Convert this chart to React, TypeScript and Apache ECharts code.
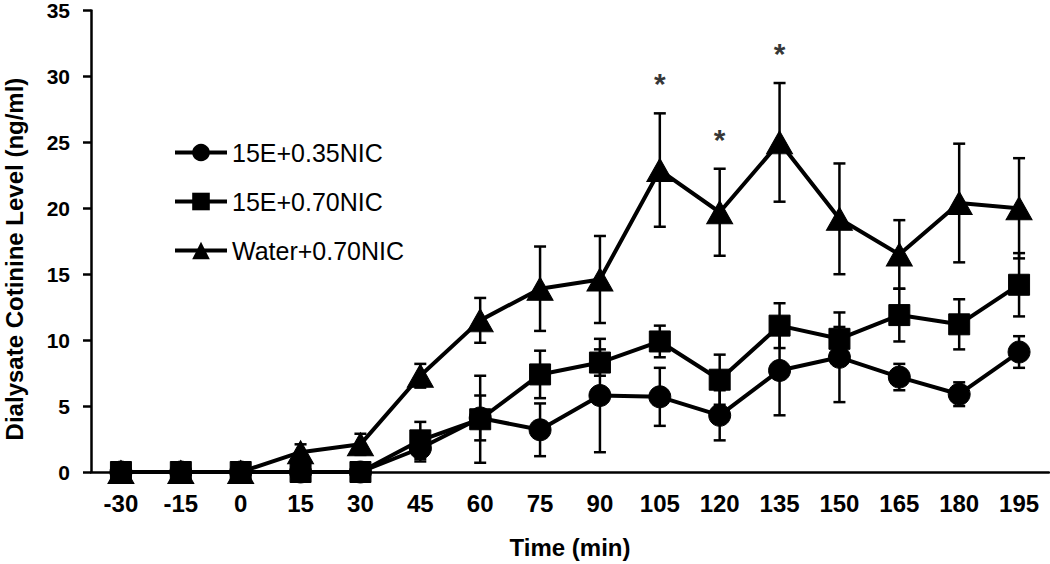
import { useEffect, useRef } from "react";
import * as echarts from "echarts";

const times = ["-30", "-15", "0", "15", "30", "45", "60", "75", "90", "105", "120", "135", "150", "165", "180", "195"];
const seriesNames = ["15E+0.35NIC", "15E+0.70NIC", "Water+0.70NIC"];

const lowNicMean = [0, 0, 0, 0, 0, 1.8, 4.1, 3.2, 5.8, 5.7, 4.3, 7.7, 8.7, 7.2, 5.9, 9.1];
const lowNicErr = [0, 0, 0, 0, 0, 1.0, 1.7, 2.0, 4.3, 2.2, 1.9, 3.4, 3.4, 1.0, 0.9, 1.2];

const highNicMean = [0, 0, 0, 0, 0, 2.4, 4.0, 7.4, 8.3, 9.9, 7.0, 11.1, 10.1, 11.9, 11.2, 14.2];
const highNicErr = [0, 0, 0, 0, 0, 1.4, 3.3, 1.8, 1.0, 1.2, 1.9, 1.7, 0.9, 2.0, 1.9, 2.4];

const waterMean = [0, 0, 0, 1.5, 2.1, 7.3, 11.5, 13.9, 14.6, 22.9, 19.7, 25.0, 19.2, 16.5, 20.4, 20.0];
const waterErr = [0, 0, 0, 0.6, 0.8, 0.9, 1.7, 3.2, 3.3, 4.3, 3.3, 4.5, 4.2, 2.6, 4.5, 3.8];

const sigTimes = ["105", "120", "135"];

const yMin = 0;
const yMax = 35;
const yStep = 5;

const FONT = "'Liberation Sans', Arial, Helvetica, sans-serif";

function errData(mean: number[], err: number[]) {
  const out: number[][] = [];
  mean.forEach((m, i) => {
    if (err[i] > 0) out.push([i, m - err[i], m + err[i]]);
  });
  return out;
}

function errorSeries(mean: number[], err: number[]) {
  return {
    type: "custom",
    z: 1,
    silent: true,
    data: errData(mean, err),
    encode: { x: 0, y: [1, 2] },
    renderItem: (_params: any, api: any) => {
      const i = api.value(0);
      const lo = api.coord([i, api.value(1)]);
      const hi = api.coord([i, api.value(2)]);
      const hw = 6;
      const style = { stroke: "#000", lineWidth: 2.5 };
      return {
        type: "group",
        children: [
          { type: "line", shape: { x1: lo[0], y1: lo[1], x2: hi[0], y2: hi[1] }, style },
          { type: "line", shape: { x1: lo[0] - hw, y1: lo[1], x2: lo[0] + hw, y2: lo[1] }, style },
          { type: "line", shape: { x1: hi[0] - hw, y1: hi[1], x2: hi[0] + hw, y2: hi[1] }, style },
        ],
      };
    },
  };
}

function lineSeries(name: string, data: number[], symbol: string, size: any) {
  return {
    name,
    type: "line",
    z: 3,
    data,
    symbol,
    symbolSize: size,
    showAllSymbol: true,
    lineStyle: { color: "#000", width: 4 },
    itemStyle: { color: "#000", borderColor: "#000" },
  };
}

export default function App() {
  const ref = useRef<HTMLDivElement>(null);

  useEffect(() => {
    if (!ref.current) return;
    const chart = echarts.init(ref.current, undefined, { renderer: "svg" });
    const starData = sigTimes.map((t) => {
      const i = times.indexOf(t);
      return [t, waterMean[i] + waterErr[i]];
    });
    chart.setOption({
      animation: false,
      backgroundColor: "#fff",
      textStyle: { fontFamily: FONT, color: "#000" },
      grid: { left: 91, right: 1, top: 10, bottom: 91, containLabel: false },
      legend: {
        data: seriesNames,
        orient: "vertical",
        left: 173,
        top: 140,
        padding: 0,
        itemWidth: 52,
        itemHeight: 22,
        itemGap: 24,
        lineStyle: { width: 4, color: "#000" },
        itemStyle: { color: "#000" },
        textStyle: { fontFamily: FONT, fontSize: 25, color: "#000" },
        selectedMode: false,
      },
      xAxis: {
        type: "category",
        data: times,
        boundaryGap: true,
        name: "Time (min)",
        nameLocation: "middle",
        nameGap: 63,
        nameTextStyle: { fontFamily: FONT, fontSize: 24, fontWeight: "bold", color: "#000" },
        axisLine: { lineStyle: { color: "#000", width: 2.5 } },
        axisTick: { alignWithLabel: true, length: 6, lineStyle: { color: "#000", width: 2.5 } },
        axisLabel: { fontFamily: FONT, fontSize: 24, fontWeight: "bold", color: "#000", margin: 19 },
        splitLine: { show: false },
      },
      yAxis: {
        type: "value",
        min: yMin,
        max: yMax,
        interval: yStep,
        axisLine: { show: true, lineStyle: { color: "#000", width: 2.5 } },
        axisTick: { show: true, length: 8, lineStyle: { color: "#000", width: 2.5 } },
        axisLabel: { fontFamily: FONT, fontSize: 21, fontWeight: "bold", color: "#000", margin: 21 },
        splitLine: { show: false },
      },
      graphic: [
        {
          type: "text",
          x: 14,
          y: 259,
          rotation: Math.PI / 2,
          style: {
            text: "Dialysate Cotinine Level (ng/ml)",
            fontFamily: FONT,
            fontSize: 24,
            fontWeight: "bold",
            fill: "#000",
            textAlign: "center",
            textVerticalAlign: "middle",
          },
        },
      ],
      series: [
        errorSeries(lowNicMean, lowNicErr),
        errorSeries(highNicMean, highNicErr),
        errorSeries(waterMean, waterErr),
        lineSeries(seriesNames[0], lowNicMean, "circle", 22),
        lineSeries(seriesNames[1], highNicMean, "rect", 21),
        lineSeries(seriesNames[2], waterMean, "triangle", [26, 23]),
        {
          type: "scatter",
          z: 4,
          silent: true,
          data: starData,
          symbolSize: 1,
          itemStyle: { color: "rgba(0,0,0,0)" },
          label: {
            show: true,
            formatter: "*",
            position: "top",
            distance: 14,
            fontFamily: FONT,
            fontSize: 30,
            fontWeight: "bold",
            color: "#000",
          },
        },
      ],
    });
    return () => chart.dispose();
  }, []);

  return <div ref={ref} style={{ width: 1050, height: 564, position: "absolute", left: 0, top: 0 }} />;
}
